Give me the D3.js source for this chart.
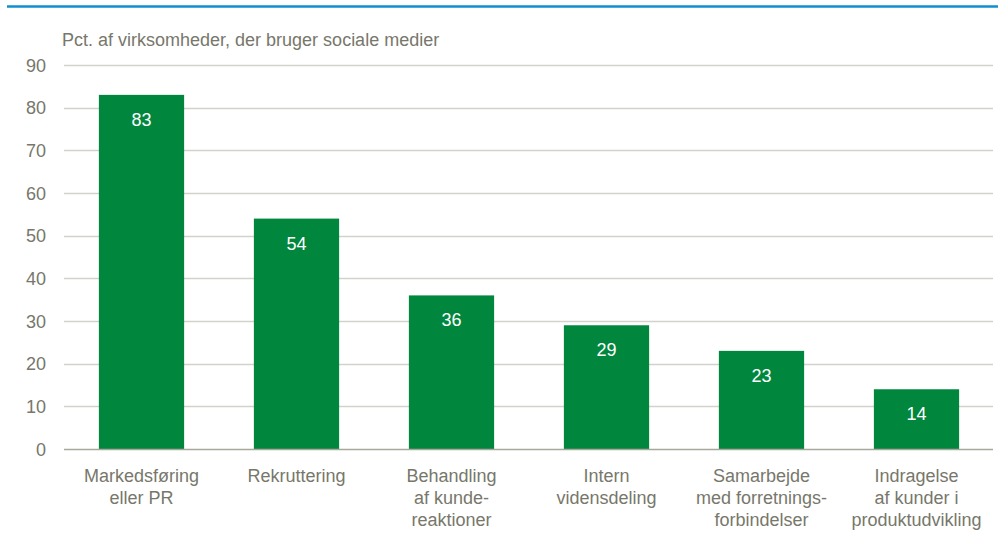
<!DOCTYPE html>
<html>
<head>
<meta charset="utf-8">
<script src="https://cdn.jsdelivr.net/npm/d3@7"></script>
<style>
body{margin:0;background:#fff;}
svg{display:block;}
</style>
</head>
<body>
<svg id="chart" width="998" height="543"></svg>
<script>
const categories = [
  ["Markedsføring","eller PR"],
  ["Rekruttering"],
  ["Behandling","af kunde-","reaktioner"],
  ["Intern","vidensdeling"],
  ["Samarbejde","med forretnings-","forbindelser"],
  ["Indragelse","af kunder i","produktudvikling"]
];
const values = [83, 54, 36, 29, 23, 14];
const yTicks = [0,10,20,30,40,50,60,70,80,90];
const yTitle = "Pct. af virksomheder, der bruger sociale medier";

const font = "'Liberation Sans Narrow','Arial Narrow','Liberation Sans',sans-serif";
const textColor = "#77776b";
const svg = d3.select("#chart");

const margin = {left:64, right:4, top:65, bottom:94};
const W = 998, H = 543;

// top blue rule
svg.append("line").attr("x1",7).attr("x2",998).attr("y1",6.5).attr("y2",6.5)
  .attr("stroke","#0f8fcf").attr("stroke-width",2.5);

const x = d3.scaleBand().domain(d3.range(categories.length))
  .range([margin.left, W-margin.right]).paddingInner(0.45).paddingOuter(0.225);
const y = d3.scaleLinear().domain([0,90]).range([H-margin.bottom, margin.top]);

// gridlines
svg.append("g").selectAll("line").data(yTicks.filter(d=>d>0)).join("line")
  .attr("x1",margin.left).attr("x2",W-margin.right-1)
  .attr("y1",d=>Math.round(y(d))+0.5).attr("y2",d=>Math.round(y(d))+0.5)
  .attr("stroke","#d3d2ca").attr("stroke-width",1.3);

// y axis labels
const yAxis = d3.axisLeft(y).tickValues(yTicks).tickSize(0).tickPadding(0);
const gy = svg.append("g").attr("transform",`translate(46,0)`).call(yAxis);
gy.select(".domain").remove();
gy.selectAll("text").attr("font-family",font).attr("font-size",18)
  .attr("fill",textColor).attr("dy","0.35em");

// bars
svg.append("g").selectAll("rect").data(values).join("rect")
  .attr("x",(d,i)=>x(i)).attr("width",x.bandwidth())
  .attr("y",d=>y(d)).attr("height",d=>y(0)-y(d))
  .attr("fill","#00873d");

// value labels
svg.append("g").selectAll("text").data(values).join("text")
  .attr("x",(d,i)=>x(i)+x.bandwidth()/2).attr("y",d=>y(d)+31)
  .attr("text-anchor","middle").attr("font-family",font).attr("font-size",18)
  .attr("fill","#ffffff").text(d=>d);

// baseline
svg.append("line").attr("x1",margin.left).attr("x2",W-margin.right-1)
  .attr("y1",Math.round(y(0))+0.5).attr("y2",Math.round(y(0))+0.5)
  .attr("stroke","#a8a79c").attr("stroke-width",1.3);

// x labels
const xl = svg.append("g").selectAll("text").data(categories).join("text")
  .attr("x",(d,i)=>x(i)+x.bandwidth()/2).attr("y",482)
  .attr("text-anchor","middle").attr("font-family",font).attr("font-size",18)
  .attr("fill",textColor);
xl.selectAll("tspan").data(d=>d).join("tspan")
  .attr("x",function(){return this.parentNode.getAttribute("x");})
  .attr("dy",(d,i)=>i===0?0:22).text(d=>d);

// title
svg.append("text").attr("x",62).attr("y",46).attr("font-family",font)
  .attr("font-size",18).attr("fill",textColor).text(yTitle);
</script>
</body>
</html>
